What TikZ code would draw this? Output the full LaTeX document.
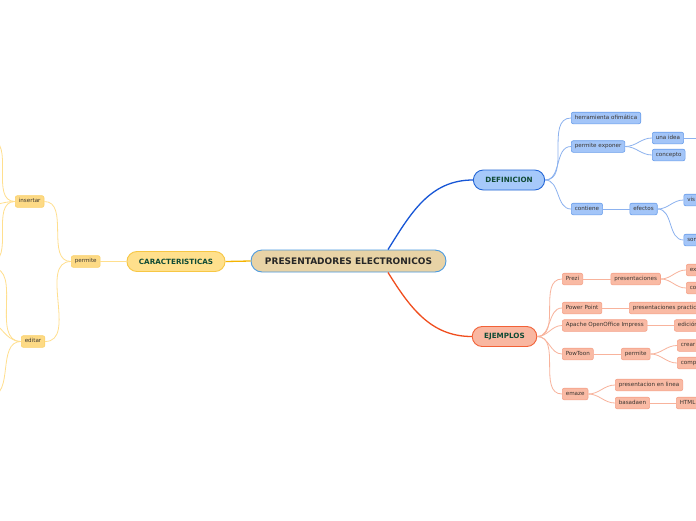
\documentclass[tikz,border=0pt]{standalone}
\usepackage{fontspec}
\setmainfont{DejaVu Sans}
\usetikzlibrary{calc}
\definecolor{rootfill}{HTML}{E8D3A6}
\definecolor{rootline}{HTML}{4A9AE0}
\definecolor{lvtext}{HTML}{0F4A35}
\definecolor{smtext}{HTML}{3A3530}
\definecolor{yfill}{HTML}{FFE08C}
\definecolor{yline}{HTML}{F7C744}
\definecolor{ymain}{HTML}{F5B400}
\definecolor{ysfill}{HTML}{FDDA85}
\definecolor{ysline}{HTML}{FBD16A}
\definecolor{yconn}{HTML}{FFDF8E}
\definecolor{bfill}{HTML}{A6C9FA}
\definecolor{bline}{HTML}{2466D6}
\definecolor{bmain}{HTML}{1756D6}
\definecolor{bsfill}{HTML}{A3C5F8}
\definecolor{bsline}{HTML}{6A9EEB}
\definecolor{bconn}{HTML}{8CB2EF}
\definecolor{ofill}{HTML}{F9B7A1}
\definecolor{oline}{HTML}{F26137}
\definecolor{omain}{HTML}{F04E1E}
\definecolor{osfill}{HTML}{F9BAA4}
\definecolor{osline}{HTML}{F5A28A}
\definecolor{oconn}{HTML}{F8B39C}
\tikzset{
  rootbox/.style={draw=rootline, fill=rootfill, line width=0.9pt, rounded corners=11pt,
    minimum height=22pt, minimum width=195pt, inner xsep=13pt, inner ysep=0pt,
    font=\fontsize{9}{10}\selectfont\bfseries, text=black!85},
  lvbox/.style={rounded corners=10pt, minimum height=20pt, inner xsep=12pt, inner ysep=0pt,
    line width=0.9pt, font=\fontsize{7.2}{9}\selectfont\bfseries, text=lvtext},
  ylv/.style={lvbox, draw=yline, fill=yfill},
  blv/.style={lvbox, draw=bline, fill=bfill},
  olv/.style={lvbox, draw=oline, fill=ofill},
  smbox/.style={rounded corners=2pt, minimum height=11.6pt, inner xsep=3.5pt, inner ysep=0pt,
    line width=0.6pt, font=\fontsize{5.6}{6}\selectfont, text=smtext,
    text height=4.1pt, text depth=1.2pt, anchor=west},
  ysm/.style={smbox, draw=ysline, fill=ysfill},
  bsm/.style={smbox, draw=bsline, fill=bsfill},
  osm/.style={smbox, draw=osline, fill=osfill},
  cut/.style={text width=#1, align=left},
  yc/.style={draw=yconn, line width=0.8pt},
  bc/.style={draw=bconn, line width=0.8pt},
  oc/.style={draw=oconn, line width=0.8pt},
  ym/.style={draw=ymain, line width=1.3pt},
  bm/.style={draw=bmain, line width=1.3pt},
  om/.style={draw=omain, line width=1.3pt},
}
\begin{document}
\begin{tikzpicture}[x=1pt,y=-1pt]
\useasboundingbox (0,0) rectangle (696,520);
\clip (0,0) rectangle (696,520);
\fill[white] (0,0) rectangle (696,520);

% root and level 1
\node[rootbox] (root) at (348.5,261) {PRESENTADORES ELECTRONICOS};
\node[ylv] (car) at (176,261.5) {CARACTERISTICAS};
\node[blv] (def) at (509,180) {DEFINICION};
\node[olv] (ejm) at (504.5,336.5) {EJEMPLOS};

% definicion branch
\node[bsm] (herr) at (571,118) {herramienta ofimática};
\node[bsm] (pexp) at (571,146.5) {permite exponer};
\node[bsm] (cont) at (571,209) {contiene};
\node[bsm] (idea) at (652,138) {una idea};
\node[bsm] (conc) at (652,155) {concepto};
\node[bsm] (efec) at (629.5,209) {efectos};
\node[bsm, cut=30pt] (vis) at (683.5,200) {vis};
\node[bsm, cut=30pt] (son) at (683.5,240) {son};
\coordinate (ideaout) at (720,138);

% ejemplos branch
\node[osm] (prezi) at (562,279) {Prezi};
\node[osm] (pres) at (610.5,279) {presentaciones};
\node[osm, cut=30pt] (ex) at (686,270) {ex};
\node[osm, cut=30pt] (co) at (686,288) {co};
\node[osm] (pp) at (562,308) {Power Point};
\node[osm, cut=80pt] (prac) at (629,308) {presentaciones practic};
\node[osm] (apa) at (562,325.5) {Apache OpenOffice Impress};
\node[osm, cut=40pt] (edi) at (674,325.5) {edición};
\node[osm] (pow) at (562,354) {PowToon};
\node[osm] (perm2) at (621,354) {permite};
\node[osm, cut=40pt] (crear) at (677,345.5) {crear};
\node[osm, cut=40pt] (comp) at (677,363) {comp};
\node[osm] (emaze) at (562,394) {emaze};
\node[osm] (linea) at (615,385) {presentacion en linea};
\node[osm] (basa) at (615,403) {basadaen};
\node[osm, cut=40pt] (html) at (676,403) {HTML};

% caracteristicas branch
\node[ysm] (perm1) at (71,261.5) {permite};
\node[ysm] (ins) at (15,201.5) {insertar};
\node[ysm] (edit) at (21,341.5) {editar};
\coordinate (ins1) at (-10,140);
\coordinate (ins2) at (-20,207);
\coordinate (ins3) at (-10,262);
\coordinate (ed1) at (-8,268);
\coordinate (ed2) at (-18,318);
\coordinate (ed3) at (-10,396);

% main connectors
\draw[ym] (root.west) -- (car.east);
\draw[bm] ($(root.north)+(39.5,0)$) to[out=58,in=180] (def.west);
\draw[om] ($(root.south)+(39.5,0)$) to[out=-58,in=180] (ejm.west);

% definicion connectors
\foreach \t in {herr,pexp,cont}
  \draw[bc] (def.east) to[out=0,in=180] (\t.west);
\draw[bc] (pexp.east) to[out=0,in=180] (idea.west);
\draw[bc] (pexp.east) to[out=0,in=180] (conc.west);
\draw[bc] (idea.east) -- (ideaout);
\draw[bc] (cont.east) -- (efec.west);
\draw[bc] (efec.east) to[out=0,in=180] (vis.west);
\draw[bc] (efec.east) to[out=0,in=180] (son.west);

% ejemplos connectors
\foreach \t in {prezi,pp,apa,pow,emaze}
  \draw[oc] (ejm.east) to[out=0,in=180] (\t.west);
\draw[oc] (prezi.east) -- (pres.west);
\draw[oc] (pres.east) to[out=0,in=180] (ex.west);
\draw[oc] (pres.east) to[out=0,in=180] (co.west);
\draw[oc] (pp.east) -- (prac.west);
\draw[oc] (apa.east) -- (edi.west);
\draw[oc] (pow.east) -- (perm2.west);
\draw[oc] (perm2.east) to[out=0,in=180] (crear.west);
\draw[oc] (perm2.east) to[out=0,in=180] (comp.west);
\draw[oc] (emaze.east) to[out=0,in=180] (linea.west);
\draw[oc] (emaze.east) to[out=0,in=180] (basa.west);
\draw[oc] (basa.east) -- (html.west);

% caracteristicas connectors
\draw[yc] (car.west) -- (perm1.east);
\draw[yc] (perm1.west) to[out=180,in=0] (ins.east);
\draw[yc] (perm1.west) to[out=180,in=0] (edit.east);
\foreach \t in {ins1,ins2,ins3}
  \draw[yc] (ins.west) to[out=180,in=0] (\t);
\foreach \t in {ed1,ed2,ed3}
  \draw[yc] (edit.west) to[out=180,in=0] (\t);
\end{tikzpicture}
\end{document}
